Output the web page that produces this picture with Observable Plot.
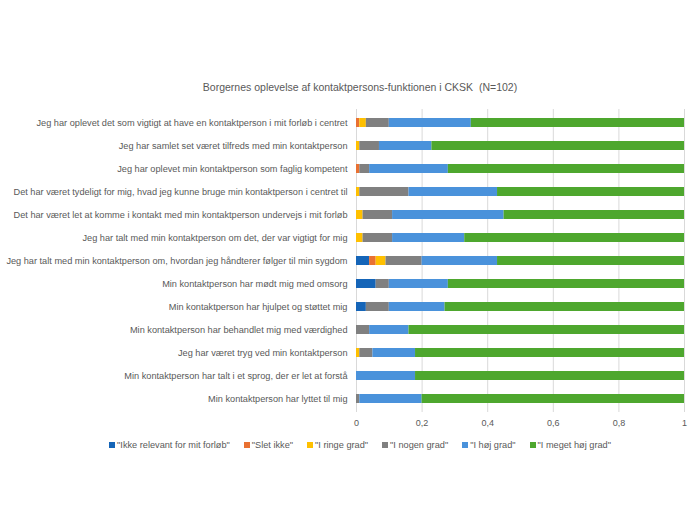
<!DOCTYPE html>
<html>
<head>
<meta charset="utf-8">
<script src="https://cdn.jsdelivr.net/npm/d3@7"></script>
<script src="https://cdn.jsdelivr.net/npm/@observablehq/plot@0.6"></script>
<style>
  html, body { margin: 0; padding: 0; background: #fff; width: 696px; height: 522px; overflow: hidden; }
  body { font-family: "Liberation Sans", Arial, sans-serif; color: #595959; }
  #title { position: absolute; left: 0; width: 720px; top: 80px; text-align: center; font-size: 10.5px; line-height: 14px; color: #595959; white-space: pre; }
  #chart { position: absolute; left: 0; top: 94px; }
  #legend { position: absolute; left: 0; width: 720px; top: 438px; text-align: center; font-size: 9.2px; line-height: 14px; color: #595959; white-space: nowrap; }
  .item { display: inline-block; margin: 0 7px; }
  .sw { display: inline-block; width: 6px; height: 6px; margin-right: 2px; vertical-align: 0px; }
</style>
</head>
<body>
<div id="title">Borgernes oplevelse af kontaktpersons-funktionen i CKSK  (N=102)</div>
<div id="chart"></div>
<div id="legend"></div>
<script>
const categories = [
  "Jeg har oplevet det som vigtigt at have en kontaktperson i mit forløb i centret",
  "Jeg har samlet set været tilfreds med min kontaktperson",
  "Jeg har oplevet min kontaktperson som faglig kompetent",
  "Det har været tydeligt for mig, hvad jeg kunne bruge min kontaktperson i centret til",
  "Det har været let at komme i kontakt med min kontaktperson undervejs i mit forløb",
  "Jeg har talt med min kontaktperson om det, der var vigtigt for mig",
  "Jeg har talt med min kontaktperson om, hvordan jeg håndterer følger til min sygdom",
  "Min kontaktperson har mødt mig med omsorg",
  "Min kontaktperson har hjulpet og støttet mig",
  "Min kontaktperson har behandlet mig med værdighed",
  "Jeg har været tryg ved min kontaktperson",
  "Min kontaktperson har talt i et sprog, der er let at forstå",
  "Min kontaktperson har lyttet til mig"
];
const seriesNames = [
  "\"Ikke relevant for mit forløb\"",
  "\"Slet ikke\"",
  "\"I ringe grad\"",
  "\"I nogen grad\"",
  "\"I høj grad\"",
  "\"I meget høj grad\""
];
const ikkeRelevant = [0, 0, 0, 0, 0, 0, 0.04, 0.06, 0.03, 0, 0, 0, 0];
const sletIkke     = [0.01, 0, 0.01, 0, 0, 0, 0.02, 0, 0, 0, 0, 0, 0];
const iRingeGrad   = [0.02, 0.01, 0, 0.01, 0.02, 0.02, 0.03, 0, 0, 0, 0.01, 0, 0];
const iNogenGrad   = [0.07, 0.06, 0.03, 0.15, 0.09, 0.09, 0.11, 0.04, 0.07, 0.04, 0.04, 0, 0.01];
const iHoejGrad    = [0.25, 0.16, 0.24, 0.27, 0.34, 0.22, 0.23, 0.18, 0.17, 0.12, 0.13, 0.18, 0.19];
const iMegetHoej   = [0.65, 0.77, 0.72, 0.57, 0.55, 0.67, 0.57, 0.72, 0.73, 0.84, 0.82, 0.82, 0.80];
const xTicks = [0, 0.2, 0.4, 0.6, 0.8, 1];
const tickLabels = ["0", "0,2", "0,4", "0,6", "0,8", "1"];
const colors = ["#1565B8", "#E97132", "#FFC000", "#808080", "#4A92DB", "#4EA72E"];

const allSeries = [ikkeRelevant, sletIkke, iRingeGrad, iNogenGrad, iHoejGrad, iMegetHoej];
const data = [];
categories.forEach((c, i) => {
  allSeries.forEach((s, j) => {
    data.push({category: c, series: seriesNames[j], value: s[i]});
  });
});

const plot = Plot.plot({
  width: 696,
  height: 338,
  marginLeft: 356,
  marginRight: 12,
  marginTop: 15,
  marginBottom: 20,
  style: {fontFamily: "'Liberation Sans', Arial, sans-serif", fontSize: "9px", color: "#595959", background: "#fff"},
  x: {domain: [0, 1], ticks: xTicks, tickFormat: (d) => tickLabels[xTicks.indexOf(d)], label: null},
  y: {domain: categories, label: null, paddingInner: 0.6, paddingOuter: 0.3},
  color: {domain: seriesNames, range: colors},
  marks: [
    Plot.gridX(xTicks, {stroke: "#d9d9d9", strokeOpacity: 1}),
    Plot.barX(data, Plot.stackX({x: "value", y: "category", fill: "series", order: seriesNames})),
    Plot.axisX({ticks: xTicks, tickSize: 0, tickPadding: 7, tickFormat: (d) => tickLabels[xTicks.indexOf(d)], label: null, fill: "#595959"}),
    Plot.axisY({tickSize: 0, tickPadding: 9, label: null, fill: "#595959", fontSize: 9.2})
  ]
});
document.getElementById("chart").appendChild(plot);

const legend = document.getElementById("legend");
seriesNames.forEach((n, j) => {
  const it = document.createElement("span");
  it.className = "item";
  const sw = document.createElement("span");
  sw.className = "sw";
  sw.style.background = colors[j];
  it.appendChild(sw);
  it.appendChild(document.createTextNode(n));
  legend.appendChild(it);
});
</script>
</body>
</html>
